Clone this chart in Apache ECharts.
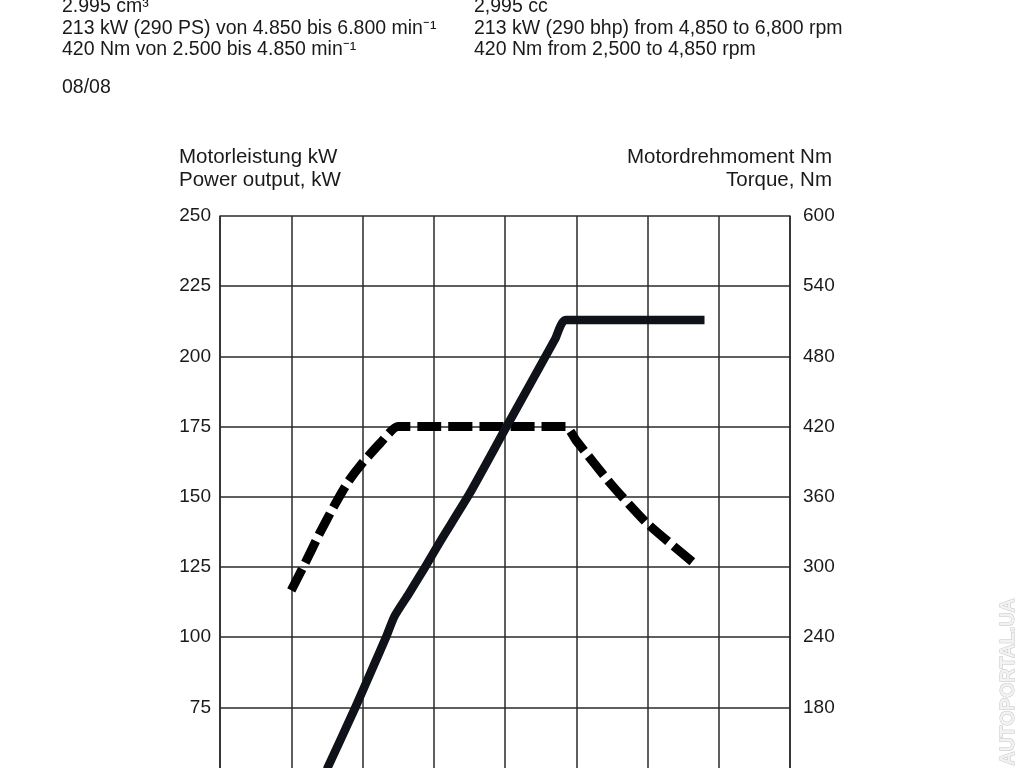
<!DOCTYPE html>
<html>
<head>
<meta charset="utf-8">
<script src="https://cdn.jsdelivr.net/npm/echarts@6/dist/echarts.min.js"></script>
<style>
html,body{margin:0;padding:0;background:#fff;overflow:hidden;width:1024px;height:768px;}
#chart{width:1024px;height:768px;overflow:hidden;position:relative;}
</style>
</head>
<body>
<div id="chart"></div>
<script>
// ---- data ----
const powerRpm = [1500, 1900, 2150, 2330, 2450, 2650, 2880, 3100, 3500, 4000, 4700, 4850, 6800];
const powerKW  = [53, 75, 89.5, 100, 107.5, 115.5, 125, 134.5, 151, 174, 206, 213, 213];
const torqueRpm = [1000, 1200, 1400, 1600, 1800, 2000, 2250, 2500, 4850, 5000, 5500, 6000, 6700];
const torqueNm  = [280, 304, 329, 352, 373, 389, 406, 420, 420, 408, 370, 337, 301];
const leftTicks = [0, 25, 50, 75, 100, 125, 150, 175, 200, 225, 250];
const rightTicks = [0, 60, 120, 180, 240, 300, 360, 420, 480, 540, 600];
const headerDE = ['2.995 cm³', '213 kW (290 PS) von 4.850 bis 6.800 min⁻¹', '420 Nm von 2.500 bis 4.850 min⁻¹'];
const headerEN = ['2,995 cc', '213 kW (290 bhp) from 4,850 to 6,800 rpm', '420 Nm from 2,500 to 4,850 rpm'];
const dateText = '08/08';
const leftTitle = ['Motorleistung kW', 'Power output, kW'];
const rightTitle = ['Motordrehmoment Nm', 'Torque, Nm'];
const watermark = 'AUTOPORTAL.UA';

const FONT = '"Liberation Sans", Arial, Helvetica, sans-serif';
const TXT = '#1a1a1a';
const GRIDC = '#2a2a2a';

// canvas taller than the window: the reference is a crop of a taller chart
const chart = echarts.init(document.getElementById('chart'), null, {renderer: 'canvas', width: 1024, height: 960});

function txt(x, y, s, size, align) {
  return {type: 'text', x: x, y: y, style: {text: s, fill: TXT, font: size + 'px ' + FONT, textAlign: align || 'left', textVerticalAlign: 'middle'}};
}
const graphics = [];
headerDE.forEach((s, i) => graphics.push(txt(62, 7 + i * 21.5, s, 19.5)));
headerEN.forEach((s, i) => graphics.push(txt(474, 7 + i * 21.5, s, 19.5)));
graphics.push(txt(62, 88, dateText, 19.5));
leftTitle.forEach((s, i) => graphics.push(txt(179, 157 + i * 23, s, 20.5)));
rightTitle.forEach((s, i) => graphics.push(txt(832, 157 + i * 23, s, 20.5, 'right')));
graphics.push({type: 'text', x: 1009, y: 682, rotation: Math.PI / 2,
  style: {text: watermark, fill: '#f2f2f2', stroke: '#c4c4c4', lineWidth: 1, font: 'bold 19.5px ' + FONT, textAlign: 'center', textVerticalAlign: 'middle'}});

const option = {
  animation: false,
  backgroundColor: '#fff',
  graphic: graphics,
  grid: {left: 220, width: 570, top: 216, height: 702, containLabel: false},
  xAxis: {
    type: 'value', min: 0, max: 8000, interval: 1000,
    axisLine: {show: true, lineStyle: {color: GRIDC, width: 1.5}},
    axisTick: {show: false}, axisLabel: {show: false},
    splitLine: {show: true, lineStyle: {color: GRIDC, width: 1.5}}
  },
  yAxis: [
    {
      type: 'value', min: leftTicks[0], max: leftTicks[leftTicks.length - 1], interval: 25,
      axisLine: {show: true, lineStyle: {color: GRIDC, width: 1.5}},
      axisTick: {show: false},
      axisLabel: {color: TXT, fontSize: 19, fontFamily: FONT, margin: 9},
      splitLine: {show: true, lineStyle: {color: GRIDC, width: 1.5}}
    },
    {
      type: 'value', min: rightTicks[0], max: rightTicks[rightTicks.length - 1], interval: 60, position: 'right',
      axisLine: {show: true, lineStyle: {color: GRIDC, width: 1.5}},
      axisTick: {show: false},
      axisLabel: {color: TXT, fontSize: 19, fontFamily: FONT, margin: 13},
      splitLine: {show: false}
    }
  ],
  series: [
    {
      name: 'Power', type: 'line', yAxisIndex: 0, symbol: 'none', smooth: 0.2,
      data: powerRpm.map((r, i) => [r, powerKW[i]]),
      lineStyle: {color: '#10121a', width: 8.5, cap: 'butt', join: 'round'},
      z: 3
    },
    {
      name: 'Torque', type: 'line', yAxisIndex: 1, symbol: 'none', smooth: 0.2,
      data: torqueRpm.map((r, i) => [r, torqueNm[i]]),
      lineStyle: {color: '#000', width: 9, type: [24, 7], cap: 'butt', join: 'round'},
      z: 2
    }
  ]
};
chart.setOption(option);
</script>
</body>
</html>
